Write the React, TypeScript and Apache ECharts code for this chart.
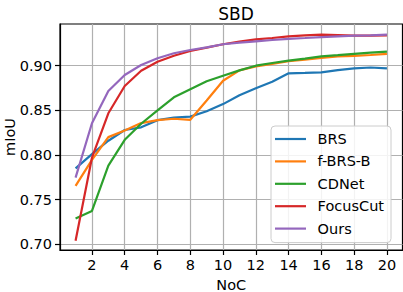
import React, { useEffect, useRef } from "react";
import * as echarts from "echarts";

const noc = [1, 2, 3, 4, 5, 6, 7, 8, 9, 10, 11, 12, 13, 14, 15, 16, 17, 18, 19, 20];
const brs = [0.785, 0.801, 0.816, 0.828, 0.831, 0.839, 0.842, 0.843, 0.849, 0.857, 0.867, 0.8747, 0.882, 0.8915, 0.892, 0.8926, 0.895, 0.897, 0.898, 0.897];
const fbrsb = [0.7654, 0.7946, 0.82, 0.8275, 0.8357, 0.839, 0.8406, 0.8394, 0.861, 0.8832, 0.8948, 0.8993, 0.902, 0.905, 0.9067, 0.9086, 0.9105, 0.911, 0.912, 0.9132];
const cdnet = [0.729, 0.7373, 0.788, 0.817, 0.835, 0.85, 0.8646, 0.8736, 0.8825, 0.8888, 0.8948, 0.9, 0.903, 0.9056, 0.908, 0.9105, 0.9118, 0.9133, 0.9146, 0.9158];
const focuscut = [0.704, 0.797, 0.8467, 0.8773, 0.8944, 0.9045, 0.9112, 0.9165, 0.9202, 0.924, 0.9269, 0.9295, 0.931, 0.9329, 0.934, 0.9347, 0.9344, 0.9336, 0.9336, 0.934];
const ours = [0.7746, 0.8355, 0.8716, 0.8896, 0.9008, 0.9083, 0.9139, 0.9176, 0.9205, 0.924, 0.9258, 0.9273, 0.9288, 0.93, 0.931, 0.9321, 0.9329, 0.9336, 0.934, 0.9347];

const seriesNames = ["BRS", "f-BRS-B", "CDNet", "FocusCut", "Ours"];
const seriesColors = ["#1f77b4", "#ff7f0e", "#2ca02c", "#d62728", "#9467bd"];
const seriesValues = [brs, fbrsb, cdnet, focuscut, ours];
const xTicks = [2, 4, 6, 8, 10, 12, 14, 16, 18, 20];
const yTicks = [0.7, 0.75, 0.8, 0.85, 0.9];

const FONT = "DejaVu Sans";

export default function App() {
  const ref = useRef<HTMLDivElement>(null);
  useEffect(() => {
    document.body.style.margin = "0";
    const chart = echarts.init(ref.current!, null, { renderer: "svg" });
    chart.setOption({
      animation: false,
      backgroundColor: "#ffffff",
      title: {
        text: "SBD",
        left: 231,
        top: 0,
        textAlign: "center",
        textStyle: { fontFamily: FONT, fontSize: 17, fontWeight: "normal", color: "#000" },
      },
      grid: {
        left: 60,
        top: 24,
        width: 342.5,
        height: 226,
        show: true,
        borderColor: "#000",
        borderWidth: 1.2,
        backgroundColor: "transparent",
        containLabel: false,
        outerBoundsMode: "none",
      },
      legend: {
        orient: "vertical",
        left: 271,
        top: 126,
        data: seriesNames,
        icon: "rect",
        itemWidth: 31,
        itemHeight: 2.2,
        itemGap: 4.4,
        padding: [4, 7, 5, 4],
        backgroundColor: "rgba(255,255,255,0.85)",
        borderColor: "#cccccc",
        borderWidth: 1,
        borderRadius: 4,
        textStyle: {
          fontFamily: FONT,
          fontSize: 14.5,
          color: "#000",
          lineHeight: 18,
          padding: [0, 0, 0, 6.6],
        },
      },
      xAxis: {
        type: "value",
        min: 0.05,
        max: 20.95,
        name: "NoC",
        nameLocation: "middle",
        nameGap: 27,
        nameMoveOverlap: false,
        nameTextStyle: { fontFamily: FONT, fontSize: 14.5, color: "#000" },
        axisLine: { show: true, lineStyle: { color: "#000", width: 1.2 } },
        axisTick: { show: true, length: 5, customValues: xTicks, lineStyle: { color: "#000", width: 1.2 } },
        axisLabel: {
          customValues: xTicks,
          margin: 7,
          fontFamily: FONT,
          fontSize: 14.5,
          color: "#000",
          formatter: (v: number) => String(v),
        },
        splitLine: { show: true, lineStyle: { color: "#b0b0b0", width: 1.2 } },
      },
      yAxis: {
        type: "value",
        min: 0.6936,
        max: 0.9467,
        name: "mIoU",
        nameLocation: "middle",
        nameGap: 43,
        nameMoveOverlap: false,
        nameTextStyle: { fontFamily: FONT, fontSize: 14.5, color: "#000" },
        axisLine: { show: true, lineStyle: { color: "#000", width: 1.2 } },
        axisTick: { show: true, length: 5, customValues: yTicks, lineStyle: { color: "#000", width: 1.2 } },
        axisLabel: {
          customValues: yTicks,
          margin: 8,
          fontFamily: FONT,
          fontSize: 14.5,
          color: "#000",
          formatter: (v: number) => v.toFixed(2),
        },
        splitLine: { show: true, lineStyle: { color: "#b0b0b0", width: 1.2 } },
      },
      series: seriesNames.map((name, i) => ({
        name,
        type: "line",
        data: noc.map((n, j) => [n, seriesValues[i][j]]),
        showSymbol: false,
        symbol: "none",
        lineStyle: { color: seriesColors[i], width: 2.2 },
        itemStyle: { color: seriesColors[i] },
        color: seriesColors[i],
      })),
    });
    return () => chart.dispose();
  }, []);
  return <div ref={ref} style={{ width: 403, height: 292 }} />;
}
